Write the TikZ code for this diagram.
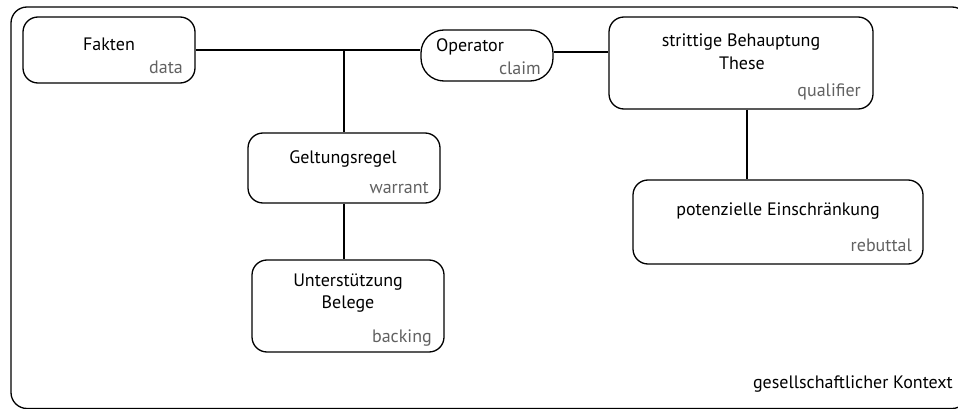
\documentclass[tikz,border=0pt]{standalone}
\usepackage{fontspec}
\setmainfont{PT Sans}
\begin{document}
\begin{tikzpicture}[x=1pt,y=-1pt,
  box/.style={draw, line width=1.3pt, rounded corners=15pt, inner sep=0pt},
  pill/.style={draw, line width=1.3pt, rounded corners=23pt, inner sep=0pt},
  link/.style={line width=1.1pt},
  main/.style={font=\fontsize{18}{21}\selectfont, inner sep=0pt, anchor=base},
  sub/.style={font=\fontsize{18}{21}\selectfont, text=black!62, inner sep=0pt, anchor=base east},
]
\useasboundingbox (0,0) rectangle (958,409);
\clip (0,0) rectangle (958,409);

% context frame
\draw[line width=1.3pt, rounded corners=16pt] (11,7) rectangle (968,408.5);
\node[main, anchor=base east] (ctx) at (953,388) {gesellschaftlicher Kontext};

% boxes
\node[box, minimum width=172pt, minimum height=66pt] (data) at (109,50) {};
\node[pill, minimum width=132pt, minimum height=51pt] (claimop) at (487,55.5) {};
\node[box, minimum width=264pt, minimum height=92pt] (thesis) at (741,63) {};
\node[box, minimum width=192pt, minimum height=70pt] (warrant) at (344,168) {};
\node[box, minimum width=192pt, minimum height=92pt] (backing) at (348,306) {};
\node[box, minimum width=290pt, minimum height=84pt] (rebuttal) at (778,222) {};

% texts
\node[main] (tdata) at (109,51) {Fakten};
\node[sub] (sdata) at (183,74) {data};
\node[main] (top) at (470,52) {Operator};
\node[sub] (sop) at (541,75) {claim};
\node[main] (tthes1) at (741,47) {strittige Behauptung};
\node[main] (tthes2) at (742,70) {These};
\node[sub] (sthes) at (861,97) {qualifier};
\node[main] (twar) at (343,163) {Geltungsregel};
\node[sub] (swar) at (429,193) {warrant};
\node[main] (tback1) at (348,286) {Unterstützung};
\node[main] (tback2) at (348,308) {Belege};
\node[sub] (sback) at (432,342) {backing};
\node[main] (treb) at (778,215) {potenzielle Einschränkung};
\node[sub] (sreb) at (912,251) {rebuttal};

% connectors
\coordinate (junction) at (data.east -| warrant.north);
\draw[link] (data.east) -- (data.east -| claimop.west);
\draw[link] (junction) -- (warrant.north);
\draw[link] (warrant.south) -- (warrant.south |- backing.north);
\draw[link] ([yshift=3.5pt]claimop.east) -- ([yshift=3.5pt]claimop.east -| thesis.west);
\draw[link] ([xshift=6pt]thesis.south) -- ([xshift=6pt]thesis.south |- rebuttal.north);
\end{tikzpicture}
\end{document}
